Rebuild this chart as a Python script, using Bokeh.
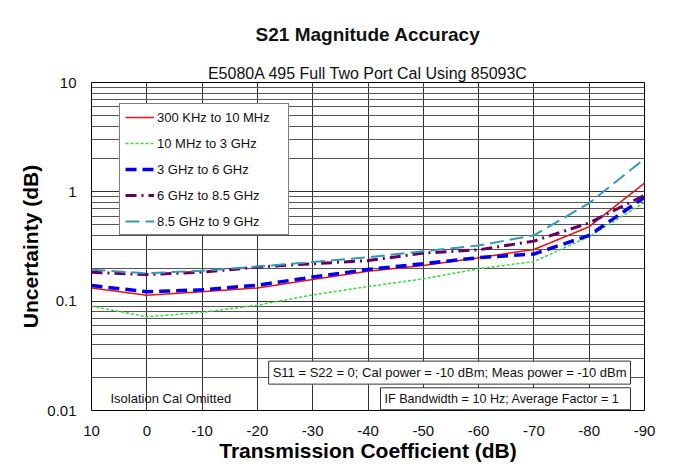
from bokeh.plotting import figure
from bokeh.models import (Range1d, FixedTicker, Legend, LegendItem, Label, Title)
from bokeh.embed import file_html
from bokeh.resources import INLINE

# ---- data ----
coef = [10, 0, -10, -20, -30, -40, -50, -60, -70, -80, -90]
s_300k_10m = [0.132, 0.113, 0.122, 0.132, 0.158, 0.188, 0.212, 0.250, 0.297, 0.48, 1.2]
s_10m_3g = [0.090, 0.072, 0.079, 0.092, 0.114, 0.136, 0.160, 0.198, 0.230, 0.39, 0.80]
s_3g_6g = [0.139, 0.122, 0.127, 0.140, 0.166, 0.195, 0.220, 0.250, 0.270, 0.40, 0.89]
s_6g_85g = [0.184, 0.175, 0.184, 0.205, 0.220, 0.235, 0.275, 0.295, 0.354, 0.52, 0.93]
s_85g_9g = [0.194, 0.180, 0.190, 0.207, 0.228, 0.252, 0.286, 0.323, 0.400, 0.79, 2.0]

series_names = ["300 KHz to 10 MHz", "10 MHz to 3 GHz", "3 GHz to 6 GHz",
                "6 GHz to 8.5 GHz", "8.5 GHz to 9 GHz"]
x_ticks = [10, 0, -10, -20, -30, -40, -50, -60, -70, -80, -90]
y_ticks = [0.01, 0.1, 1, 10]
y_tick_labels = ["0.01", "0.1", "1", "10"]

FONT = "Liberation Sans"

p = figure(width=689, height=465, output_backend="svg", toolbar_location=None,
           x_range=Range1d(10, -90), y_range=Range1d(0.01, 10), y_axis_type="log",
           min_border_left=91, min_border_right=45, min_border_top=82, min_border_bottom=55,
           background_fill_color="white", border_fill_color="white")

p.outline_line_color = "black"
p.outline_line_width = 1

# titles
p.title = None
sub = Title(text="E5080A 495 Full Two Port Cal Using 85093C", align="center",
            text_font=FONT, text_font_size="16px", text_font_style="normal",
            text_color="#111111", standoff=2)
main = Title(text="S21 Magnitude Accuracy", align="center", text_font=FONT,
             text_font_size="19px", text_font_style="bold", text_color="#111111",
             standoff=34)
p.add_layout(sub, "above")
p.add_layout(main, "above")

# axes
p.xaxis.ticker = FixedTicker(ticks=x_ticks)
p.xaxis.major_label_overrides = {t: str(t) for t in x_ticks}
ymin = []
for d in [0.01, 0.1, 1]:
    for k in range(2, 10):
        ymin.append(round(d * k, 6))
p.yaxis.ticker = FixedTicker(ticks=y_ticks, minor_ticks=ymin)
p.yaxis.major_label_overrides = {t: l for t, l in zip(y_ticks, y_tick_labels)}

for ax in (p.xaxis[0], p.yaxis[0]):
    ax.axis_line_color = None
    ax.major_tick_line_color = None
    ax.minor_tick_line_color = None
    ax.major_label_text_font = FONT
    ax.major_label_text_font_size = "15px"
    ax.major_label_text_color = "#111111"
    ax.axis_label_text_font = FONT
    ax.axis_label_text_font_size = "21px"
    ax.axis_label_text_font_style = "bold"
    ax.axis_label_text_color = "#000000"

p.xaxis.axis_label = "Transmission Coefficient (dB)"
p.yaxis.axis_label = "Uncertainty (dB)"
p.xaxis.major_label_standoff = 9
p.yaxis.major_label_standoff = 9
p.xaxis.axis_label_standoff = 0
p.yaxis.axis_label_standoff = 2

# grid
p.xgrid.grid_line_color = "#333333"
p.xgrid.grid_line_width = 1
p.ygrid.grid_line_color = "#333333"
p.ygrid.grid_line_width = 1
p.ygrid.minor_grid_line_color = "#555555"
p.ygrid.minor_grid_line_width = 1

# series
r1 = p.line(coef, s_300k_10m, line_color="#ee1111", line_width=1.5)
r2 = p.line(coef, s_10m_3g, line_color="#33dd33", line_width=1.5, line_dash="3 2")
r3 = p.line(coef, s_3g_6g, line_color="#0000ee", line_width=3.5, line_dash="11 6")
r4 = p.line(coef, s_6g_85g, line_color="#660066", line_width=3, line_dash="11 5 2 5")
r5 = p.line(coef, s_85g_9g, line_color="#3399bb", line_width=2, line_dash="14 6")

legend = Legend(items=[LegendItem(label=n, renderers=[r]) for n, r in
                       zip(series_names, [r1, r2, r3, r4, r5])],
                location=(28, 175), orientation="vertical",
                label_text_font=FONT, label_text_font_size="13px", label_text_color="#111111",
                glyph_width=29, glyph_height=16, label_height=16, spacing=10,
                padding=5, margin=0, label_standoff=3, label_width=126,
                border_line_color="black", border_line_width=1,
                background_fill_color="white", background_fill_alpha=1)
p.add_layout(legend, "center")

# annotation boxes
lab1 = Label(x=-90, y=0.0222, x_offset=-14, text="S11 = S22 = 0; Cal power = -10 dBm; Meas power = -10 dBm",
             text_align="right", text_baseline="middle", text_font=FONT, text_font_size="13px",
             text_color="#111111", background_fill_color="white", border_line_color="#333333",
             border_line_width=1, padding=4)
lab2 = Label(x=-90, y=0.0128, x_offset=-14, text="IF Bandwidth  = 10 Hz; Average  Factor = 1",
             text_align="right", text_baseline="middle", text_font=FONT, text_font_size="12.6px",
             text_color="#111111", background_fill_color="white", border_line_color="#333333",
             border_line_width=1, padding=4)
lab3 = Label(x=10, y=0.0128, x_offset=19, text="Isolation  Cal  Omitted",
             text_align="left", text_baseline="middle", text_font=FONT, text_font_size="13px",
             text_color="#111111")
p.add_layout(lab1)
p.add_layout(lab2)
p.add_layout(lab3)

open("out.html", "w").write(file_html(p, INLINE))
